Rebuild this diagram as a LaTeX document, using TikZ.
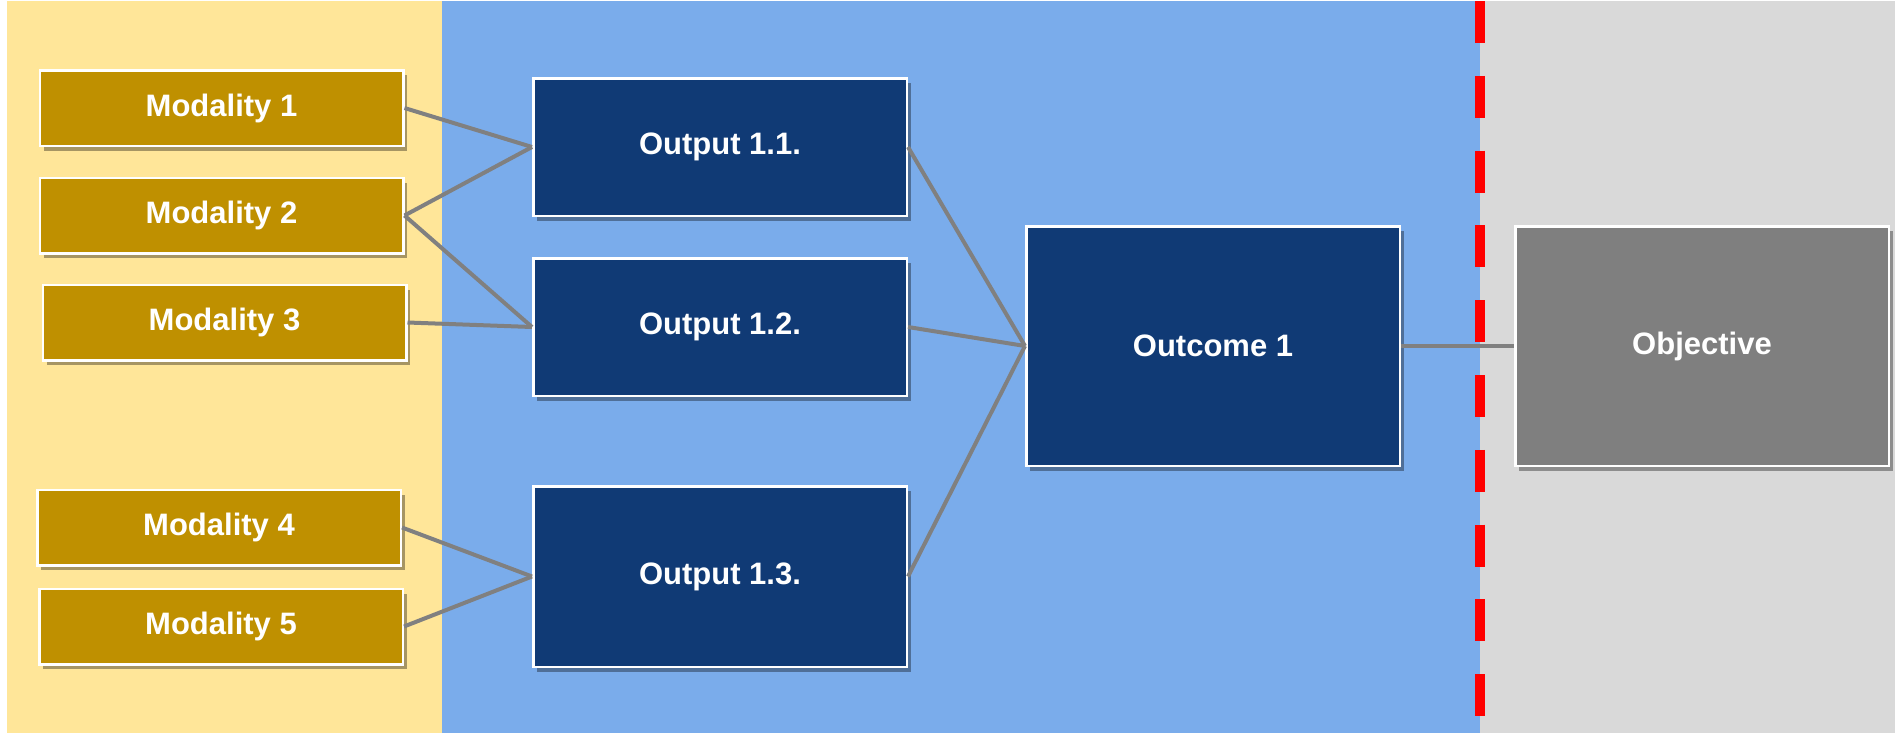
\documentclass[tikz,border=0pt]{standalone}
\usepackage{fontspec}
\setmainfont{Liberation Sans}
\usetikzlibrary{shadows,scopes}
\definecolor{panelyellow}{HTML}{FFE699}
\definecolor{panelblue}{HTML}{7AACEB}
\definecolor{panelgray}{HTML}{D9D9D9}
\definecolor{modgold}{HTML}{BF9000}
\definecolor{navy}{HTML}{103A75}
\definecolor{objgray}{HTML}{7F7F7F}
\definecolor{linegray}{HTML}{808080}
\begin{document}
\begin{tikzpicture}[x=0.5pt,y=-0.5pt,
    box/.style={rectangle,draw=white,line width=1.25pt,inner sep=0pt,text=white,
        font=\fontsize{15.5}{18}\selectfont\bfseries,
        drop shadow={shadow xshift=2pt,shadow yshift=-2.5pt,opacity=0.35,fill=black}},
    mod/.style={box,fill=modgold,minimum width=181.75pt,minimum height=37.75pt},
    outp/.style={box,fill=navy,minimum width=186.75pt,minimum height=68.75pt},
    goal/.style={box,minimum width=186.75pt,minimum height=119.75pt},
    link/.style={color=linegray,line width=2pt}]
    \useasboundingbox (0,0) rectangle (1895,734);
    % panels
    \fill[white] (0,0) rectangle (1895,734);
    \fill[panelyellow] (7,1) rectangle (442,733);
    \fill[panelblue] (442,1) rectangle (1480,733);
    \fill[panelgray] (1480,1) rectangle (1895,733);
    \draw[red,line width=5.25pt,dash pattern=on 21pt off 16.4pt] (1480,1) -- (1480,733);

    \node[mod] (m1) at (221.5,108) {Modality 1};
    \node[mod] (m2) at (221.5,215.5) {Modality 2};
    \node[mod] (m3) at (224.5,322.5) {Modality 3};
    \node[mod] (m4) at (219,527.5) {Modality 4};
    \node[mod] (m5) at (221,626.5) {Modality 5};

    \node[outp] (o1) at (720,147) {Output 1.1.};
    \node[outp] (o2) at (720,327) {Output 1.2.};
    \node[outp,minimum height=90.25pt] (o3) at (720,576.5) {Output 1.3.};

    \node[goal,fill=navy] (oc) at (1213,346) {Outcome 1};
    \node[goal,fill=objgray] (obj) at (1702,346) {Objective};

    {[link]
    \draw (m1.east) -- (o1.west);
    \draw (m2.east) -- (o1.west);
    \draw (m2.east) -- (o2.west);
    \draw (m3.east) -- (o2.west);
    \draw (m4.east) -- (o3.west);
    \draw (m5.east) -- (o3.west);
    \draw (o1.east) -- (oc.west);
    \draw (o2.east) -- (oc.west);
    \draw (o3.east) -- (oc.west);
    \draw (oc.east) -- (obj.west);
    }
\end{tikzpicture}
\end{document}
